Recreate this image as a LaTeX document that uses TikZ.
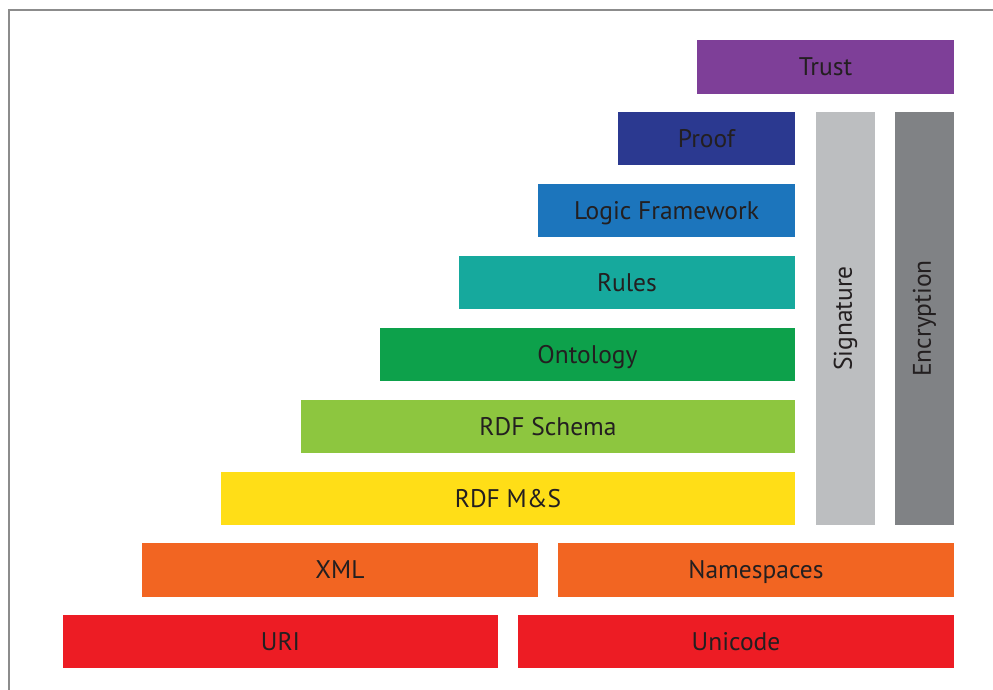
\documentclass[tikz,border=0pt]{standalone}
\usepackage{fontspec}
\setmainfont{PT Sans}
\usepackage{tikz}
\usetikzlibrary{positioning}
\definecolor{frame}{HTML}{8C8C8C}
\definecolor{ink}{HTML}{231F20}
\definecolor{trustc}{HTML}{7E3F98}
\definecolor{proofc}{HTML}{2B3990}
\definecolor{logicc}{HTML}{1C75BC}
\definecolor{rulesc}{HTML}{16A99D}
\definecolor{ontoc}{HTML}{0DA14B}
\definecolor{schemac}{HTML}{8DC63F}
\definecolor{rdfc}{HTML}{FFDE17}
\definecolor{xmlc}{HTML}{F26522}
\definecolor{uric}{HTML}{ED1C24}
\definecolor{sigc}{HTML}{BCBEC0}
\definecolor{encc}{HTML}{808285}

\begin{document}
\begin{tikzpicture}[
    layer/.style={rectangle, inner sep=0pt, minimum height=1.07cm, text=ink, text height=13pt, text depth=3pt, font=\fontsize{14.5}{16}\selectfont},
    pillar/.style={rectangle, inner sep=0pt, minimum width=1.18cm, minimum height=8.26cm},
    side/.style={text=ink, rotate=90, font=\fontsize{14.5}{16}\selectfont},
]
\useasboundingbox (0,0) rectangle (19.86,13.8);

% Frame (top and left edge only)
\coordinate (tl) at (0.18,13.6);
\coordinate (tr) at (19.86,13.6);
\coordinate (bl) at (0.18,0);
\draw[frame, line width=1.1pt] (bl) -- (tl) -- (tr);

% Stack of layers
\node[layer, fill=trustc, minimum width=5.14cm] (trust) at (16.51, 12.46) {Trust};
\node[layer, fill=proofc, minimum width=3.54cm] (proof) at (14.13, 11.03) {Proof};
\node[layer, fill=logicc, minimum width=5.14cm] (logic) at (13.33, 9.59) {Logic Framework};
\node[layer, fill=rulesc, minimum width=6.72cm] (rules) at (12.54, 8.15) {Rules};
\node[layer, fill=ontoc, minimum width=8.30cm] (onto) at (11.75, 6.71) {Ontology};
\node[layer, fill=schemac, minimum width=9.88cm] (schema) at (10.96, 5.27) {RDF Schema};
\node[layer, fill=rdfc, minimum width=11.48cm] (rdf) at (10.16, 3.83) {RDF M\&S};

% Base layers
\node[layer, fill=xmlc, minimum width=7.92cm] (xml) at (6.80, 2.40) {XML};
\node[layer, fill=xmlc, minimum width=7.92cm] (ns) at (15.12, 2.40) {Namespaces};
\node[layer, fill=uric, minimum width=8.70cm] (uri) at (5.61, 0.97) {URI};
\node[layer, fill=uric, minimum width=8.72cm] (unicode) at (14.72, 0.97) {Unicode};

% Vertical pillars
\node[pillar, fill=sigc] (sig) at (16.91, 7.43) {};
\node[pillar, fill=encc] (enc) at (18.49, 7.43) {};
\node[side] at (sig.center) {Signature};
\node[side] at (enc.center) {Encryption};
\end{tikzpicture}
\end{document}
